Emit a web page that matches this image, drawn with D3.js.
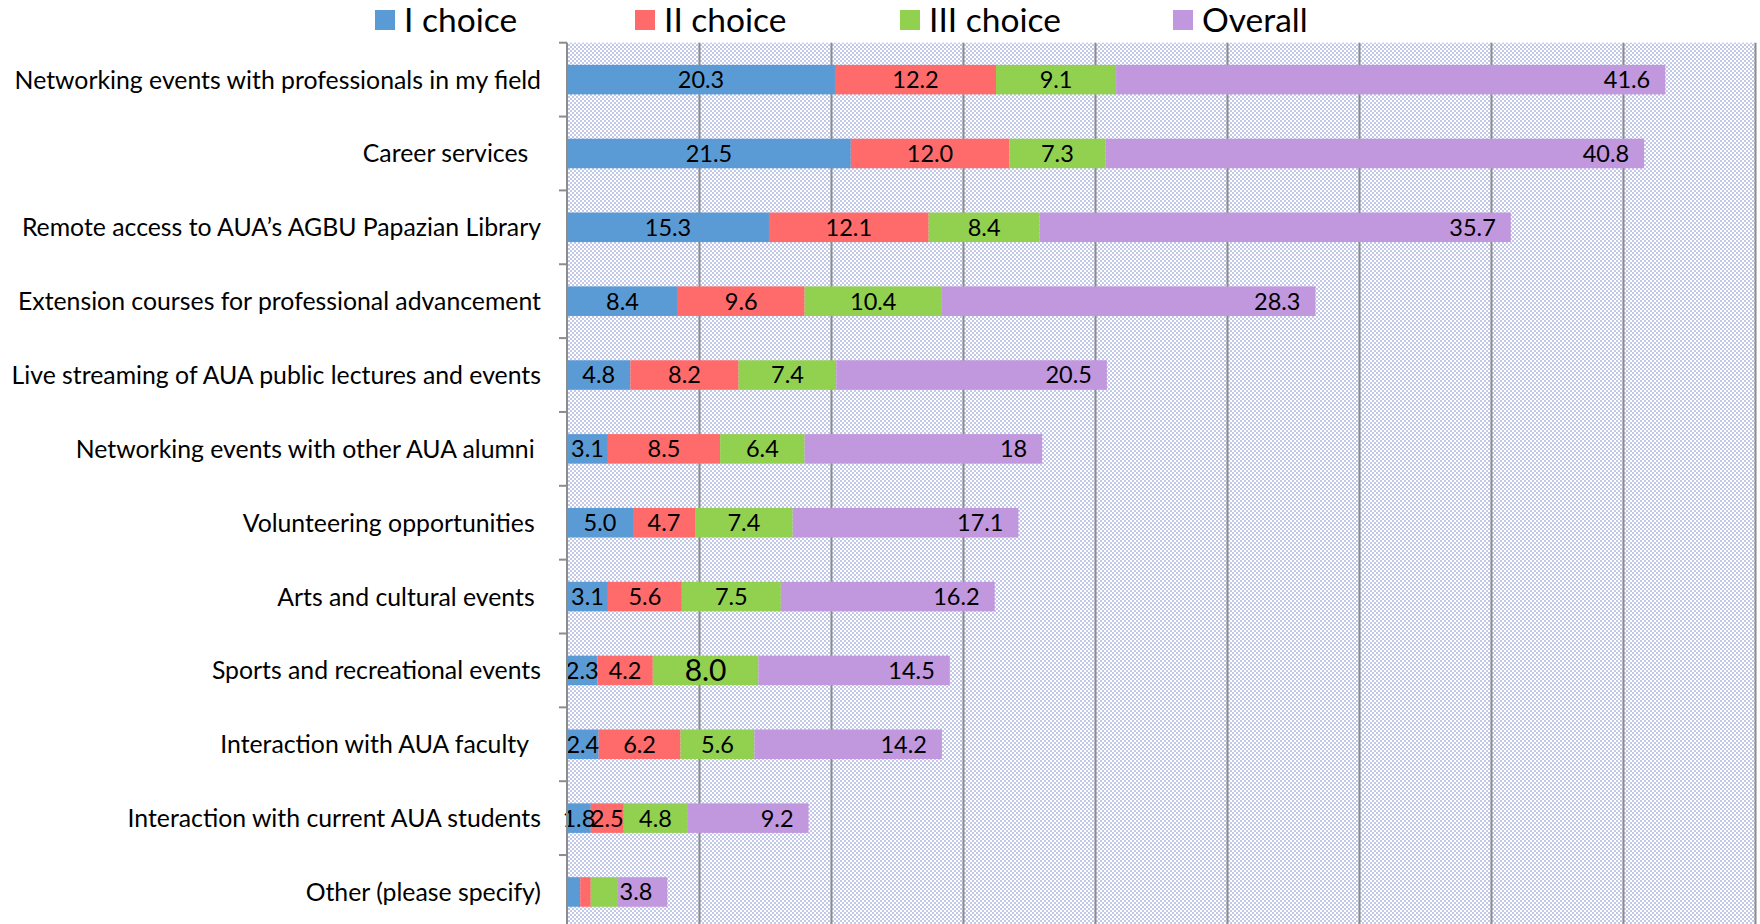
<!DOCTYPE html>
<html>
<head>
<meta charset="utf-8">
<script src="https://cdn.jsdelivr.net/npm/d3@7"></script>
<style>
  html, body { margin: 0; padding: 0; background: #fff; overflow: hidden; }
  svg { display: block; }
  text { font-family: Lato, "Open Sans", sans-serif; fill: #000; }
</style>
</head>
<body>
<svg id="chart" width="1760" height="924"></svg>
<script>
// ---- data ----
const categories = [
  "Networking events with professionals in my field",
  "Career services  ",
  "Remote access to AUA\u2019s AGBU Papazian Library",
  "Extension courses for professional advancement",
  "Live streaming of AUA public lectures and events",
  "Networking events with other AUA alumni ",
  "Volunteering opportunities ",
  "Arts and cultural events ",
  "Sports and recreational events",
  "Interaction with AUA faculty  ",
  "Interaction with current AUA students",
  "Other (please specify)"
];
const choice1 = [20.3, 21.5, 15.3, 8.4, 4.8, 3.1, 5.0, 3.1, 2.3, 2.4, 1.8, 1.0];
const choice2 = [12.2, 12.0, 12.1, 9.6, 8.2, 8.5, 4.7, 5.6, 4.2, 6.2, 2.5, 0.8];
const choice3 = [9.1, 7.3, 8.4, 10.4, 7.4, 6.4, 7.4, 7.5, 8.0, 5.6, 4.8, 2.0];
const overall = [41.6, 40.8, 35.7, 28.3, 20.5, 18, 17.1, 16.2, 14.5, 14.2, 9.2, 3.8];
const seriesNames = ["I choice", "II choice", "III choice", "Overall"];
const seriesColors = ["#5b9bd5", "#ff6b6b", "#92d050", "#c197dd"];
const xTickValues = [0, 10, 20, 30, 40, 50, 60, 70, 80, 90];
// rows whose I/II/III segments carry no data label
const unlabeledRows = ["Other (please specify)"];
// one label drawn in a larger font in the original
const enlargedLabelRow = "Sports and recreational events";
const enlargedLabelSeries = 2;

// ---- layout ----
const svg = d3.select("#chart");
const plotLeft = 567, plotRight = 1755, plotTop = 42.7, bandStep = 73.85;
const plotBottom = plotTop + bandStep * categories.length;

const x = d3.scaleLinear().domain([0, 90]).range([plotLeft, plotRight]);
const y = d3.scaleBand().domain(categories).range([plotTop, plotBottom])
  .paddingInner(0.6).paddingOuter(0.3);

const seriesValues = [choice1, choice2, choice3, overall];
const rows = categories.map((c, i) => {
  const r = { category: c };
  seriesNames.forEach((s, k) => r[s] = seriesValues[k][i]);
  return r;
});
const stacked = d3.stack().keys(seriesNames)(rows);

// pattern background
const defs = svg.append("defs");
const pat = defs.append("pattern").attr("id", "dots")
  .attr("patternUnits", "userSpaceOnUse").attr("width", 4).attr("height", 4);
pat.append("rect").attr("width", 4).attr("height", 4).attr("fill", "#ffffff");
pat.append("rect").attr("x", 0).attr("y", 0).attr("width", 2).attr("height", 2).attr("fill", "#c2c8e7");
pat.append("rect").attr("x", 2).attr("y", 2).attr("width", 2).attr("height", 2).attr("fill", "#c2c8e7");

svg.append("rect")
  .attr("x", plotLeft).attr("y", plotTop)
  .attr("width", plotRight - plotLeft).attr("height", plotBottom - plotTop)
  .attr("fill", "url(#dots)");

// gridlines
svg.append("g")
  .attr("transform", `translate(0,${plotTop})`)
  .call(d3.axisBottom(x).tickValues(xTickValues.slice(1)).tickSize(plotBottom - plotTop).tickFormat(""))
  .call(g => g.select(".domain").remove())
  .call(g => g.selectAll("line").attr("stroke", "#8c8c8c").attr("stroke-width", 2));

// bars
const layers = svg.append("g").selectAll("g").data(stacked).join("g")
  .attr("fill", (d, i) => seriesColors[i]);
layers.selectAll("rect").data(d => d).join("rect")
  .attr("x", d => x(d[0]))
  .attr("y", d => y(d.data.category))
  .attr("width", d => x(d[1]) - x(d[0]))
  .attr("height", y.bandwidth());

// data labels
const labelG = svg.append("g");
stacked.forEach((layer, k) => {
  layer.forEach(d => {
    const cat = d.data.category;
    const v = d.data[seriesNames[k]];
    if (k < 3 && unlabeledRows.includes(cat)) return;
    const isOverall = k === 3;
    const big = (cat === enlargedLabelRow && k === enlargedLabelSeries);
    labelG.append("text")
      .attr("x", isOverall ? x(d[1]) - 15 : (x(d[0]) + x(d[1])) / 2)
      .attr("y", y(cat) + y.bandwidth() / 2)
      .attr("dy", "0.36em")
      .attr("text-anchor", isOverall ? "end" : "middle")
      .attr("font-size", big ? 30 : 23.5)
      .text(isOverall ? String(v) : v.toFixed(1));
  });
});

// category axis
const tickPositions = d3.range(categories.length + 1).map(i => plotTop + i * bandStep);
const axisG = svg.append("g");
axisG.append("line")
  .attr("x1", plotLeft).attr("x2", plotLeft)
  .attr("y1", plotTop).attr("y2", plotBottom)
  .attr("stroke", "#8c8c8c").attr("stroke-width", 2);
axisG.selectAll("line.tick").data(tickPositions).join("line")
  .attr("class", "tick")
  .attr("x1", plotLeft - 8).attr("x2", plotLeft)
  .attr("y1", d => d).attr("y2", d => d)
  .attr("stroke", "#8c8c8c").attr("stroke-width", 2);
axisG.selectAll("text").data(categories).join("text")
  .attr("x", 541)
  .attr("y", d => y(d) + y.bandwidth() / 2)
  .attr("dy", "0.36em")
  .attr("text-anchor", "end")
  .attr("font-size", 24.8)
  .style("white-space", "pre")
  .text(d => d);

// legend
const legendX = [375, 635, 900, 1173];
const legend = svg.append("g").selectAll("g").data(seriesNames).join("g")
  .attr("transform", (d, i) => `translate(${legendX[i]},20)`);
legend.append("rect").attr("x", 0).attr("y", -10).attr("width", 20).attr("height", 20)
  .attr("fill", (d, i) => seriesColors[i]);
legend.append("text").attr("x", 29).attr("y", 0).attr("dy", "0.36em")
  .attr("font-size", 33.5).text(d => d);
</script>
</body>
</html>
